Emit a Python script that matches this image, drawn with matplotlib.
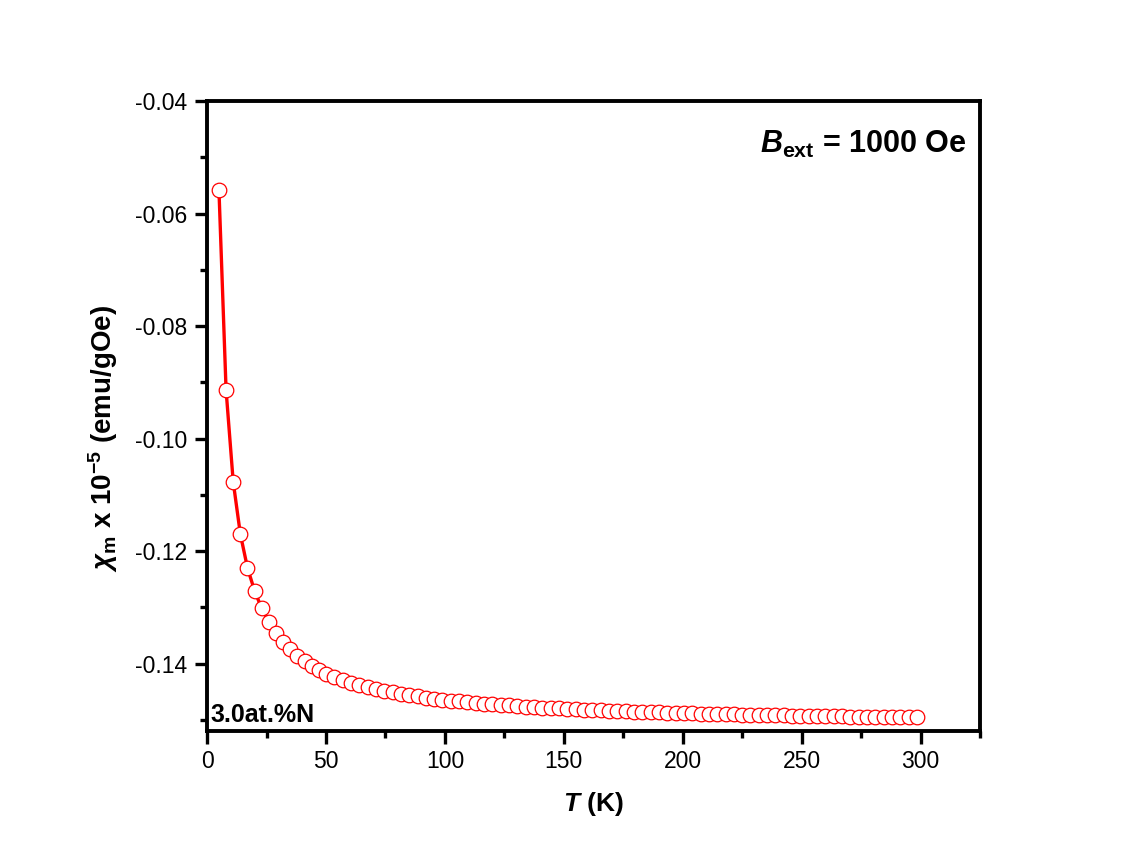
import matplotlib
matplotlib.use('Agg')
import matplotlib.pyplot as plt
from matplotlib.ticker import MultipleLocator

plt.rcParams['font.family'] = ['Liberation Sans', 'DejaVu Sans']
plt.rcParams['mathtext.fontset'] = 'custom'
plt.rcParams['mathtext.rm'] = 'Liberation Sans:bold'
plt.rcParams['mathtext.it'] = 'Liberation Sans:italic:bold'
plt.rcParams['mathtext.bf'] = 'Liberation Sans:bold'

# temperature (K)
temp = [5, 8, 11, 14, 17, 20, 23, 26, 29, 32, 35, 38, 41, 44, 47, 50,
        53.5, 57, 60.5, 64, 67.5, 71, 74.5, 78, 81.5, 85, 88.5, 92, 95.5, 99,
        102.5, 106, 109.5, 113, 116.5, 120, 123.5, 127, 130.5, 134, 137.5, 141,
        144.5, 148, 151.5, 155, 158.5, 162, 165.5, 169, 172.5, 176, 179.5, 183,
        186.5, 190, 193.5, 197, 200.5, 204, 207.5, 211, 214.5, 218, 221.5, 225,
        228.5, 232, 235.5, 239, 242.5, 246, 249.5, 253, 256.5, 260, 263.5, 267,
        270.5, 274, 277.5, 281, 284.5, 288, 291.5, 295, 298.5]

# susceptibility (x 10^-5 emu/gOe)
chi = [-0.0558, -0.0914, -0.1077, -0.1170, -0.1230, -0.1271, -0.1302, -0.1326,
       -0.1346, -0.1362, -0.1375, -0.1387, -0.1396, -0.1404, -0.1411, -0.1418,
       -0.14235, -0.14290, -0.14338, -0.14380, -0.14419, -0.14453, -0.14484,
       -0.14513, -0.14539, -0.14563, -0.14585, -0.14605, -0.14624, -0.14641,
       -0.14658, -0.14673, -0.14687, -0.14700, -0.14713, -0.14725, -0.14736,
       -0.14746, -0.14756, -0.14766, -0.14775, -0.14783, -0.14791, -0.14799,
       -0.14806, -0.14813, -0.14820, -0.14827, -0.14833, -0.14839, -0.14844,
       -0.14850, -0.14855, -0.14860, -0.14865, -0.14869, -0.14874, -0.14878,
       -0.14882, -0.14886, -0.14890, -0.14894, -0.14898, -0.14901, -0.14905,
       -0.14908, -0.14911, -0.14914, -0.14917, -0.14920, -0.14923, -0.14926,
       -0.14929, -0.14931, -0.14934, -0.14936, -0.14938, -0.14941, -0.14943,
       -0.14945, -0.14947, -0.14950, -0.14952, -0.14954, -0.14956, -0.14958,
       -0.14959]

fig = plt.figure(figsize=(11.29, 8.68), dpi=100)
ax = fig.add_axes([0.1834, 0.1578, 0.6846, 0.7258])

ax.plot(temp, chi, color='red', lw=2.4, zorder=2)
ax.plot(temp, chi, ls='none', marker='o', ms=10.5, mfc='white', mec='red',
        mew=0.9, zorder=3)

ax.set_xlim(0, 325)
ax.set_ylim(-0.152, -0.04)
ax.xaxis.set_major_locator(MultipleLocator(50))
ax.xaxis.set_minor_locator(MultipleLocator(25))
ax.yaxis.set_major_locator(MultipleLocator(0.02))
ax.yaxis.set_minor_locator(MultipleLocator(0.01))
ax.set_xticks([0, 50, 100, 150, 200, 250, 300])
ax.set_yticks([-0.14, -0.12, -0.10, -0.08, -0.06, -0.04])
ax.set_yticklabels(['-0.14', '-0.12', '-0.10', '-0.08', '-0.06', '-0.04'])

for s in ax.spines.values():
    s.set_linewidth(2.8)
ax.tick_params(which='major', direction='out', length=9, width=2.4,
               labelsize=16.5, pad=5, top=False, right=False)
ax.tick_params(which='minor', direction='out', length=5, width=2.4,
               top=False, right=False)

ax.set_xlabel(r'$\mathit{T}$ (K)', fontsize=19, fontweight='bold', labelpad=12)
ax.set_ylabel(r'$\chi_{\rm m}$ x 10$^{-5}$ (emu/gOe)', fontsize=20,
              fontweight='bold')
ax.yaxis.set_label_coords(-0.112, 0.465)

ax.text(0.982, 0.917, r'$\mathit{B}_{\mathbf{ext}}$ = 1000 Oe', transform=ax.transAxes,
        ha='right', va='baseline', fontsize=22, fontweight='bold')
ax.text(0.005, 0.014, '3.0at.%N', transform=ax.transAxes, ha='left',
        va='baseline', fontsize=18, fontweight='bold')

fig.savefig('out.png', dpi=100, facecolor='white')
